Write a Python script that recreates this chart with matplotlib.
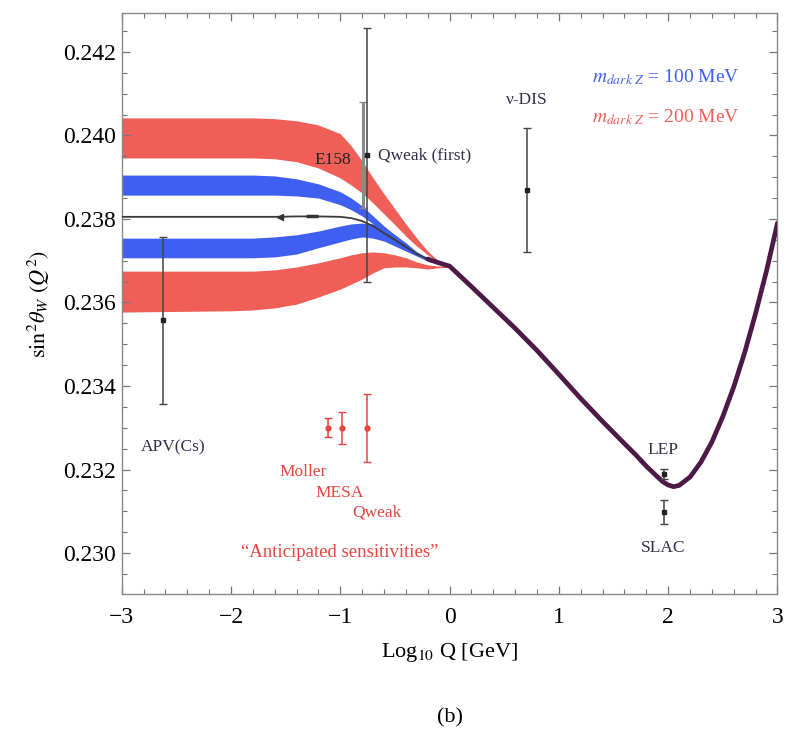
#!/usr/bin/env python3
"""Running weak mixing angle with dark-Z bands (panel b)."""

import matplotlib

matplotlib.use("Agg")
import matplotlib.pyplot as plt
from matplotlib.ticker import FormatStrFormatter, MultipleLocator

# band samples in log10 Q
band_x = [-3.0, -2.0, -1.8, -1.6, -1.4, -1.2, -1.0, -0.9, -0.8, -0.7, -0.6, -0.5, -0.4, -0.3, -0.2, -0.1, 0.0]

# m_dark Z = 200 MeV (red), upper and lower bands
red_up_top = [0.24042, 0.24042, 0.24042, 0.24040, 0.24035, 0.24025, 0.24004, 0.23975, 0.23939,
              0.23898, 0.23860, 0.23824, 0.23788, 0.23754, 0.23723, 0.23699, 0.23690]
red_up_bot = [0.23946, 0.23946, 0.23946, 0.23944, 0.23937, 0.23922, 0.23898, 0.23881, 0.23862,
              0.23838, 0.23812, 0.23786, 0.23759, 0.23735, 0.23714, 0.23697, 0.23685]
red_lo_top = [0.23675, 0.23675, 0.23675, 0.23678, 0.23685, 0.23695, 0.23707, 0.23714, 0.23719,
              0.23721, 0.23719, 0.23714, 0.23707, 0.23697, 0.23690, 0.23687, 0.23689]
red_lo_bot = [0.23577, 0.23580, 0.23582, 0.23587, 0.23596, 0.23613, 0.23632, 0.23644, 0.23656,
              0.23671, 0.23683, 0.23685, 0.23685, 0.23683, 0.23680, 0.23683, 0.23685]

# m_dark Z = 100 MeV (blue)
blue_up_top = [0.23905, 0.23905, 0.23905, 0.23903, 0.23896, 0.23884, 0.23865, 0.23850, 0.23831,
               0.23807, 0.23783, 0.23762, 0.23740, 0.23721, 0.23704, 0.23695, 0.23690]
blue_up_bot = [0.23857, 0.23857, 0.23857, 0.23857, 0.23855, 0.23850, 0.23834, 0.23822, 0.23807,
               0.23788, 0.23766, 0.23747, 0.23731, 0.23714, 0.23699, 0.23692, 0.23685]
blue_lo_top = [0.23754, 0.23754, 0.23754, 0.23757, 0.23762, 0.23771, 0.23783, 0.23788, 0.23790,
               0.23788, 0.23778, 0.23762, 0.23743, 0.23721, 0.23707, 0.23695, 0.23690]
blue_lo_bot = [0.23707, 0.23707, 0.23707, 0.23709, 0.23716, 0.23731, 0.23745, 0.23752, 0.23757,
               0.23754, 0.23747, 0.23735, 0.23723, 0.23711, 0.23699, 0.23692, 0.23685]

# Standard Model running
sm_x = [-3.0, -2.0, -1.6, -1.4, -1.2, -1.0, -0.9, -0.8, -0.7, -0.6, -0.5, -0.4, -0.3, -0.2, -0.1,
        0.0, 0.2, 0.4, 0.6, 0.8, 1.0, 1.2, 1.4, 1.6, 1.7, 1.8, 1.9, 1.95, 2.0, 2.05, 2.1, 2.2, 2.3,
        2.4, 2.5, 2.6, 2.7, 2.8, 2.9, 3.0]
sm_y = [0.23805, 0.23805, 0.23805, 0.23806, 0.23806, 0.23805, 0.23802, 0.23795, 0.23783, 0.23766,
        0.23750, 0.23733, 0.23716, 0.23704, 0.23695, 0.23687, 0.23638, 0.23588, 0.23538, 0.23485,
        0.23428, 0.23370, 0.23315, 0.23262, 0.23236, 0.23208, 0.23183, 0.23171, 0.23163, 0.23159,
        0.23162, 0.23182, 0.23218, 0.23266, 0.23327, 0.23398, 0.23480, 0.23574, 0.23676, 0.23790]

# measurements
meas_names = ["APV(Cs)", "Qweak (first)", "ν-DIS", "LEP", "SLAC"]
meas_x = [-2.62, -0.76, 0.71, 1.96, 1.96]
meas_y = [0.23557, 0.23953, 0.23870, 0.23190, 0.23098]
meas_err = [0.00200, 0.00305, 0.00148, 0.00012, 0.00028]
e158_x = -0.79
e158_y = 0.23953
e158_err = 0.00128

# anticipated sensitivities
future_names = ["Moller", "MESA", "Qweak"]
future_x = [-1.115, -0.987, -0.758]
future_y = [0.23300, 0.23300, 0.23300]
future_err = [0.00023, 0.00038, 0.00081]

RED = "#ef5f58"
BLUE = "#3f5ff0"
TXT = "#30304a"
FRED = "#e8453f"

plt.rcParams["font.family"] = ["Liberation Serif", "DejaVu Serif"]
plt.rcParams["mathtext.fontset"] = "stix"

fig = plt.figure(figsize=(7.87, 7.52), dpi=100)
ax = fig.add_axes([0.1546, 0.2101, 0.8333, 0.7726])

ax.fill_between(band_x, red_up_bot, red_up_top, color=RED, lw=0, zorder=1)
ax.fill_between(band_x, red_lo_bot, red_lo_top, color=RED, lw=0, zorder=1)
ax.fill_between(band_x, blue_up_bot, blue_up_top, color=BLUE, lw=0, zorder=2)
ax.fill_between(band_x, blue_lo_bot, blue_lo_top, color=BLUE, lw=0, zorder=2)

left = [i for i, v in enumerate(sm_x) if v <= 0.0]
right = [i for i, v in enumerate(sm_x) if v >= -0.2]
ax.plot([sm_x[i] for i in left], [sm_y[i] for i in left], color="#3a3a3a", lw=1.3, zorder=3)
ax.plot([sm_x[i] for i in right], [sm_y[i] for i in right], color="#4d1a47", lw=3.4,
        solid_capstyle="round", solid_joinstyle="round", zorder=4)
# little arrow marks riding on the SM line
ax.plot([-1.55], [sm_y[2]], marker="<", ms=4, color="#333333", zorder=5)
ax.plot([-1.26], [sm_y[4]], marker="_", ms=9, mew=2.5, color="#333333", zorder=5)

ax.errorbar([e158_x], [e158_y], yerr=[e158_err], fmt="none", ecolor="#8a8a8a", elinewidth=2.2,
            capsize=3, capthick=1, zorder=6)
ax.errorbar(meas_x, meas_y, yerr=meas_err, fmt="s", ms=3.5, color="#222222", ecolor="#444444",
            elinewidth=1.1, capsize=3, capthick=1, zorder=7)
ax.errorbar(future_x, future_y, yerr=future_err, fmt="o", ms=3.5, color=FRED, ecolor=FRED,
            elinewidth=1.1, capsize=3, capthick=1, zorder=7)

ax.text(-2.53, 0.23252, meas_names[0], ha="center", va="center", fontsize=12.5, color=TXT)
ax.text(-0.655, 0.23953, meas_names[1], ha="left", va="center", fontsize=12.5, color=TXT)
ax.text(0.71, 0.24085, meas_names[2], ha="center", va="center", fontsize=12.5, color=TXT)
ax.text(1.955, 0.23247, meas_names[3], ha="center", va="center", fontsize=12.5, color=TXT)
ax.text(1.955, 0.23012, meas_names[4], ha="center", va="center", fontsize=12.5, color=TXT)
ax.text(-1.066, 0.23941, "E158", ha="center", va="center", fontsize=12.5, color="#222222")

ax.text(-1.339, 0.23194, future_names[0], ha="center", va="center", fontsize=12.5, color=FRED)
ax.text(-1.003, 0.23144, future_names[1], ha="center", va="center", fontsize=12.5, color=FRED)
ax.text(-0.665, 0.23096, future_names[2], ha="center", va="center", fontsize=12.5, color=FRED)
ax.text(-1.003, 0.23002, "\u201cAnticipated sensitivities\u201d", ha="center", va="center",
        fontsize=13.5, color=FRED)

ax.text(1.30, 0.24140, r"$m_{dark\ Z}$ = 100 MeV", ha="left", va="center", fontsize=14, color=BLUE)
ax.text(1.30, 0.24044, r"$m_{dark\ Z}$ = 200 MeV", ha="left", va="center", fontsize=14, color=RED)

ax.set_xlim(-3, 3)
ax.set_ylim(0.22902, 0.24293)
ax.xaxis.set_major_locator(MultipleLocator(1))
ax.xaxis.set_minor_locator(MultipleLocator(0.2))
ax.yaxis.set_major_locator(MultipleLocator(0.002))
ax.yaxis.set_minor_locator(MultipleLocator(0.0005))
ax.yaxis.set_major_formatter(FormatStrFormatter("%.3f"))
ax.tick_params(which="both", direction="in", top=True, right=True, color="#777777")
ax.tick_params(which="major", length=6, width=0.9, labelsize=17)
ax.tick_params(which="minor", length=3.5, width=0.8)
ax.tick_params(axis="x", pad=9)
ax.tick_params(axis="y", pad=4)
for spine in ax.spines.values():
    spine.set_color("#888888")
    spine.set_linewidth(1.0)

ax.set_xlabel(r"Log$_{10}$ Q [GeV]", fontsize=16, labelpad=10)
ax.set_ylabel(r"$\mathrm{sin}^2\theta_W\ (Q^2)$", fontsize=16, labelpad=8)
fig.text(0.572, 0.045, "(b)", ha="center", va="center", fontsize=16)

fig.savefig("out.png", dpi=100)
print("wrote out.png")
